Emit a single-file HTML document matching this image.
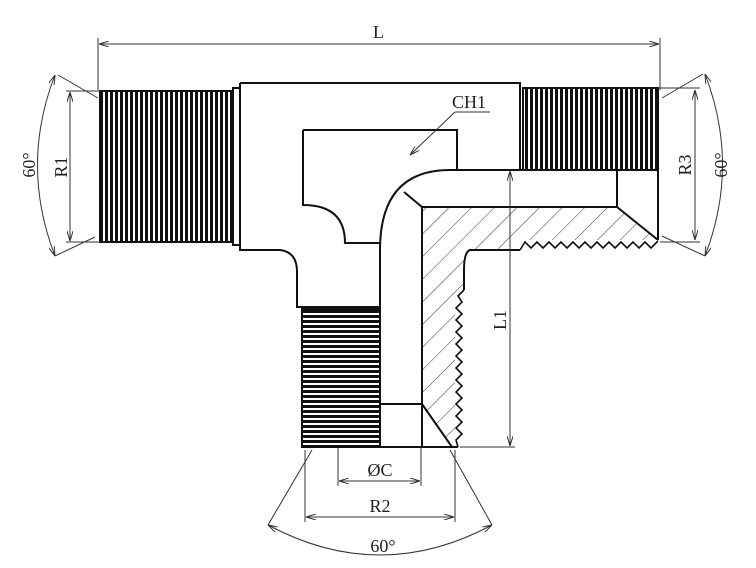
<!DOCTYPE html>
<html><head><meta charset="utf-8"><style>html,body{margin:0;padding:0;background:#fff}svg{display:block}</style></head><body>
<svg width="756" height="568" viewBox="0 0 756 568" xmlns="http://www.w3.org/2000/svg" font-family="Liberation Serif, serif">
<defs>
<pattern id="vt" width="5" height="10" patternUnits="userSpaceOnUse"><rect width="5" height="10" fill="#fff"/><rect x="0" width="3" height="10" fill="#111"/></pattern>
<pattern id="ht" width="10" height="5" patternUnits="userSpaceOnUse"><rect width="10" height="5" fill="#fff"/><rect y="0" width="10" height="3" fill="#111"/></pattern>
<pattern id="hatch" width="16" height="16" patternUnits="userSpaceOnUse" patternTransform="rotate(45)"><line x1="0" y1="0" x2="0" y2="16" stroke="#333" stroke-width="1"/></pattern>
<marker id="a" markerWidth="10" markerHeight="6" refX="10" refY="3" orient="auto-start-reverse"><path d="M0,0 L10,3 L0,6" fill="none" stroke="#333" stroke-width="1"/></marker>
</defs>
<g stroke="#111" stroke-width="2" fill="none">
<rect x="100" y="91" width="133" height="151" fill="url(#vt)"/>
<rect x="233" y="88" width="7" height="157" fill="#fff"/>
<rect x="523" y="88" width="135" height="82" fill="url(#vt)"/>
<rect x="302" y="309" width="78" height="138" fill="url(#ht)"/>
<path d="M240,83 L520,83 L520,170 M240,83 L240,250 L280,250 Q297,252 297,272 L297,307 L380,307"/>
<path d="M380,447 L380,250 Q380,170 450,170 L658,170 L658,240" />
<path d="M422,207 L617,207 L658,240 L525,240 L520,248 L470,250 Q464,252 464,270 L464,290 L455,300 L455,447 L452,447 L422,404 Z" fill="url(#hatch)" stroke="none"/>
<path d="M404,192 L422,207 L617,207 L617,170 M617,207 L658,240 M422,207 L422,447 M380,404 L422,404 L452,447 M380,447 L458,447"/>
<path d="M520,250 L470,250 Q464,252 464,270 L464,290" />
<path d="M464,290 L458,296 L462,302 L456,308 L462,314 L456,320 L462,326 L456,332 L462,338 L456,344 L462,350 L456,356 L462,362 L456,368 L462,374 L456,380 L462,386 L456,392 L462,398 L456,404 L462,410 L456,416 L462,422 L456,428 L462,434 L456,440 L458,447" stroke-width="1.6"/>
<path d="M520,250 L525,242 L531,248 L537,242 L543,248 L549,242 L555,248 L561,242 L567,248 L573,242 L579,248 L585,242 L591,248 L597,242 L603,248 L609,242 L615,248 L621,242 L627,248 L633,242 L639,248 L645,242 L651,248 L658,241" stroke-width="1.6"/>
<path d="M303,130 L457,130 L457,170 M303,130 L303,205 Q345,205 345,243 L380,243"/>
</g>
<g stroke="#333" stroke-width="1" fill="none">
<path d="M98,38 L98,90 M660,38 L660,90"/>
<line x1="99" y1="44" x2="659" y2="44" marker-start="url(#a)" marker-end="url(#a)"/>
<path d="M66,91 L100,91 M66,242 L100,242"/>
<line x1="70" y1="92" x2="70" y2="241" marker-start="url(#a)" marker-end="url(#a)"/>
<path d="M58,75 L98,98 M55,256 L95,237"/>
<path d="M55,75 Q20,165 55,256" marker-start="url(#a)" marker-end="url(#a)"/>
<path d="M658,88 L700,88 M660,242 L700,242"/>
<line x1="695" y1="90" x2="695" y2="240" marker-start="url(#a)" marker-end="url(#a)"/>
<path d="M703,74 L662,98 M705,256 L662,236"/>
<path d="M705,74 Q740,165 705,256" marker-start="url(#a)" marker-end="url(#a)"/>
<path d="M460,447 L515,447"/>
<line x1="510" y1="171" x2="510" y2="446" marker-start="url(#a)" marker-end="url(#a)"/>
<path d="M338,448 L338,486 M421,448 L421,486 M305,450 L305,522 M455,450 L455,522"/>
<line x1="339" y1="481" x2="420" y2="481" marker-start="url(#a)" marker-end="url(#a)"/>
<line x1="306" y1="517" x2="454" y2="517" marker-start="url(#a)" marker-end="url(#a)"/>
<path d="M312,450 L268,525 M450,450 L492,525"/>
<path d="M268,525 Q380,585 492,525" marker-start="url(#a)" marker-end="url(#a)"/>
<path d="M455,112 L490,112" />
<line x1="455" y1="112" x2="410" y2="155" marker-end="url(#a)"/>
</g>
<g fill="#222" font-size="18">
<text x="373" y="38">L</text>
<text x="452" y="108">CH1</text>
<text x="67" y="167" transform="rotate(-90 67 167)" text-anchor="middle">R1</text>
<text x="35" y="165" transform="rotate(-90 35 165)" text-anchor="middle">60°</text>
<text x="691" y="165" transform="rotate(-90 691 165)" text-anchor="middle">R3</text>
<text x="727" y="165" transform="rotate(-90 727 165)" text-anchor="middle">60°</text>
<text x="506" y="320" transform="rotate(-90 506 320)" text-anchor="middle">L1</text>
<text x="380" y="476" text-anchor="middle">ØC</text>
<text x="380" y="512" text-anchor="middle">R2</text>
<text x="383" y="552" text-anchor="middle">60°</text>
</g>
</svg>
</body></html>
